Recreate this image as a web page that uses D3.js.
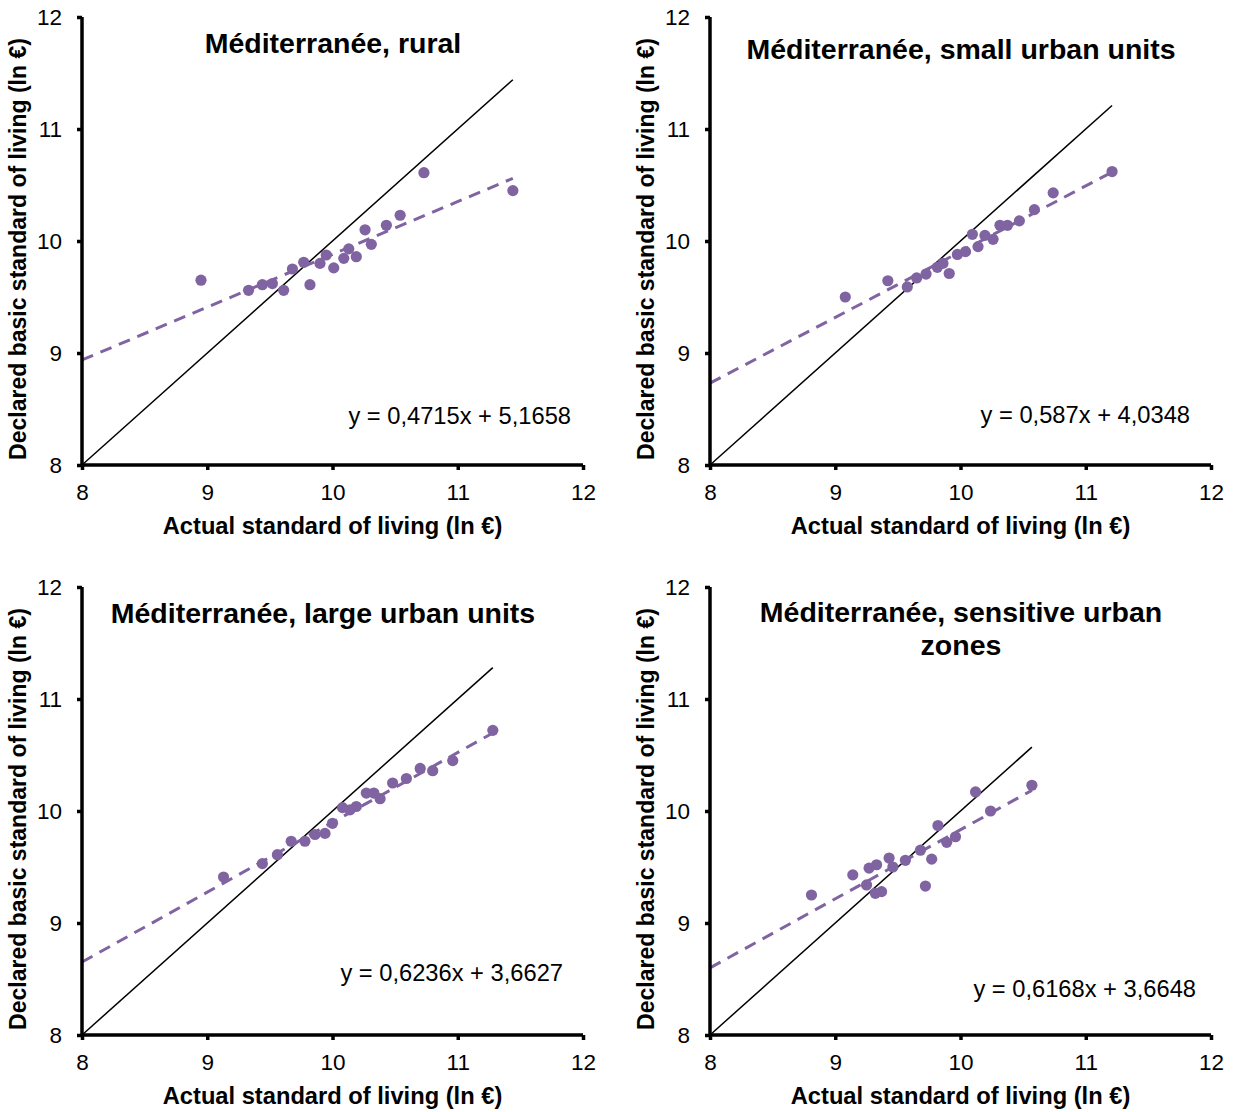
<!DOCTYPE html>
<html>
<head>
<meta charset="utf-8">
<script src="https://d3js.org/d3.v7.min.js"></script>
<style>
  body { margin: 0; background: #fff; }
  text { font-family: "Liberation Sans", Arial, sans-serif; }
</style>
</head>
<body>
<div id="chart"></div>
<script>
// panel titles (lines) and trendline labels
const titles = [
  ['Méditerranée, rural'],
  ['Méditerranée, small urban units'],
  ['Méditerranée, large urban units'],
  ['Méditerranée, sensitive urban', 'zones']
];
const equations = [
  'y = 0,4715x + 5,1658',
  'y = 0,587x + 4,0348',
  'y = 0,6236x + 3,6627',
  'y = 0,6168x + 3,6648'
];
const slopes = [0.4715, 0.587, 0.6236, 0.6168];
const intercepts = [5.1658, 4.0348, 3.6627, 3.6648];
const axisTicks = [8, 9, 10, 11, 12];

// rural
const ruralX = [8.95, 9.33, 9.44, 9.52, 9.61, 9.68, 9.77, 9.82, 9.90, 9.95, 10.01, 10.09, 10.13, 10.19, 10.26, 10.31, 10.43, 10.54, 10.73, 11.44];
const ruralY = [9.65, 9.56, 9.61, 9.62, 9.56, 9.75, 9.81, 9.61, 9.80, 9.875, 9.76, 9.845, 9.93, 9.86, 10.10, 9.97, 10.14, 10.23, 10.61, 10.45];
// small urban units
const smallX = [9.08, 9.42, 9.575, 9.65, 9.725, 9.815, 9.86, 9.91, 9.975, 10.04, 10.095, 10.14, 10.195, 10.26, 10.315, 10.375, 10.47, 10.59, 10.74, 11.21];
const smallY = [9.50, 9.645, 9.59, 9.67, 9.705, 9.765, 9.80, 9.71, 9.88, 9.905, 10.06, 9.95, 10.05, 10.015, 10.14, 10.14, 10.18, 10.28, 10.43, 10.62];
// large urban units
const largeX = [9.13, 9.44, 9.56, 9.67, 9.78, 9.86, 9.94, 10.00, 10.08, 10.14, 10.19, 10.27, 10.33, 10.38, 10.48, 10.59, 10.70, 10.80, 10.96, 11.28];
const largeY = [9.41, 9.53, 9.61, 9.73, 9.73, 9.79, 9.80, 9.89, 10.03, 10.01, 10.04, 10.16, 10.16, 10.11, 10.25, 10.29, 10.38, 10.36, 10.45, 10.72];
// sensitive urban zones
const zusX = [8.81, 9.14, 9.25, 9.27, 9.33, 9.32, 9.37, 9.43, 9.46, 9.56, 9.68, 9.72, 9.77, 9.82, 9.89, 9.96, 10.12, 10.24, 10.57];
const zusY = [9.25, 9.43, 9.34, 9.49, 9.52, 9.265, 9.28, 9.58, 9.50, 9.56, 9.65, 9.33, 9.57, 9.87, 9.72, 9.77, 10.17, 10.00, 10.23];

const seriesX = [ruralX, smallX, largeX, zusX];
const seriesY = [ruralY, smallY, largeY, zusY];

const W = 1234, H = 1112;
const purple = '#8064A2';

// layout of each panel (plot area) and label placement
const panels = [
  { left: 82, top: 17, titleX: 333, titleY: 43, eqX: 571, eqY: 416 },
  { left: 710, top: 17, titleX: 961, titleY: 49, eqX: 1190, eqY: 415 },
  { left: 82, top: 587, titleX: 323, titleY: 613, eqX: 563, eqY: 973 },
  { left: 710, top: 587, titleX: 961, titleY: 612, eqX: 1196, eqY: 989 }
];
const pw = 501, ph = 448;

const svg = d3.select('#chart').append('svg')
  .attr('width', W).attr('height', H);

panels.forEach((p, i) => {
  const g = svg.append('g').attr('transform', `translate(${p.left},${p.top})`);
  const x = d3.scaleLinear().domain([8, 12]).range([0, pw]);
  const y = d3.scaleLinear().domain([8, 12]).range([ph, 0]);
  const xs = seriesX[i], ys = seriesY[i];
  const xMax = d3.max(xs);

  // y = x reference line
  g.append('line')
    .attr('x1', x(8)).attr('y1', y(8))
    .attr('x2', x(xMax)).attr('y2', y(xMax))
    .attr('stroke', '#000').attr('stroke-width', 1.5);

  // linear trendline
  g.append('line')
    .attr('x1', x(8)).attr('y1', y(slopes[i] * 8 + intercepts[i]))
    .attr('x2', x(xMax)).attr('y2', y(slopes[i] * xMax + intercepts[i]))
    .attr('stroke', purple).attr('stroke-width', 3)
    .attr('stroke-dasharray', '12,8');

  // points
  g.selectAll('.dot')
    .data(xs.map((v, k) => [v, ys[k]]))
    .join('circle')
    .attr('class', 'dot')
    .attr('cx', d => x(d[0])).attr('cy', d => y(d[1]))
    .attr('r', 5.6)
    .attr('fill', purple);

  // axes
  const xAxis = g.append('g').attr('transform', `translate(0,${ph})`)
    .call(d3.axisBottom(x).tickValues(axisTicks).tickSize(5).tickPadding(14).tickFormat(d3.format('d')));
  const yAxis = g.append('g')
    .call(d3.axisLeft(y).tickValues(axisTicks).tickSize(5).tickPadding(15).tickFormat(d3.format('d')));
  [xAxis, yAxis].forEach(a => {
    a.select('.domain').attr('stroke', '#000').attr('stroke-width', 3.5)
      .attr('d', a === xAxis ? `M0,0H${pw}` : `M0,0V${ph}`);
    a.selectAll('.tick line').attr('stroke', '#000').attr('stroke-width', 3.5);
    a.selectAll('.tick text').attr('fill', '#000').style('font-size', '22.5px')
      .style('font-family', '"Liberation Sans", Arial, sans-serif');
  });
  yAxis.selectAll('.tick text').attr('dy', '0.35em');

  // axis titles
  g.append('text')
    .attr('x', pw / 2).attr('y', ph + 69)
    .attr('text-anchor', 'middle')
    .style('font-size', '23.7px').style('font-weight', 'bold')
    .text('Actual standard of living (ln €)');
  g.append('text')
    .attr('transform', `translate(-56,${ph / 2 + 8}) rotate(-90)`)
    .attr('text-anchor', 'middle')
    .style('font-size', '23px').style('font-weight', 'bold')
    .text('Declared basic standard of living (ln €)');

  // title
  titles[i].forEach((line, k) => {
    g.append('text')
      .attr('x', p.titleX - p.left).attr('y', p.titleY - p.top + 10 + k * 33)
      .attr('text-anchor', 'middle')
      .style('font-size', '28.5px').style('font-weight', 'bold')
      .text(line);
  });

  // equation
  g.append('text')
    .attr('x', p.eqX - p.left).attr('y', p.eqY - p.top + 8)
    .attr('text-anchor', 'end')
    .style('font-size', '23.7px')
    .text(equations[i]);
});
</script>
</body>
</html>
